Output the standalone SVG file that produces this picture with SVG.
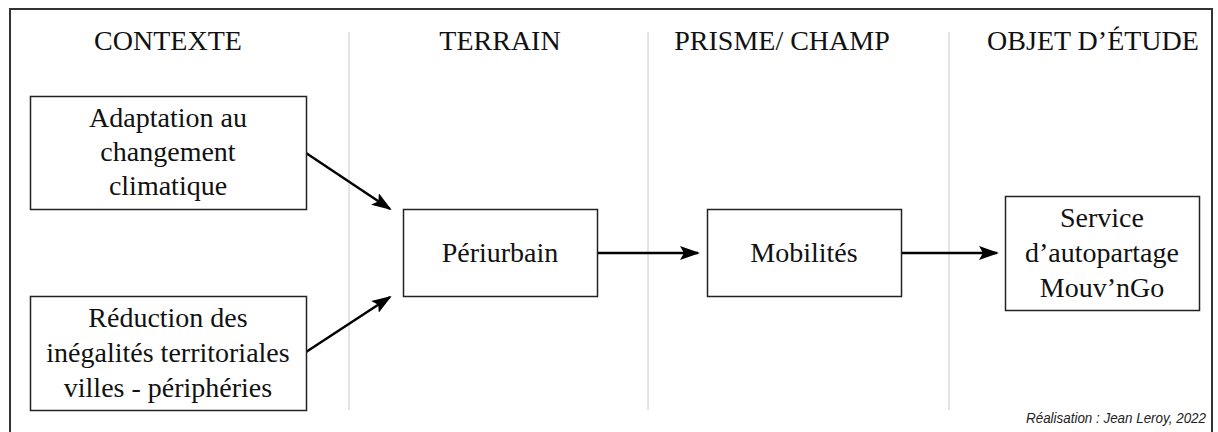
<svg xmlns="http://www.w3.org/2000/svg" width="1218" height="432" viewBox="0 0 1218 432">
<style>
.t{font-family:'Liberation Serif','Times New Roman',serif;font-size:28px;fill:#111;text-anchor:middle}
.box{fill:#fff;stroke:#222;stroke-width:1.5}
.div{stroke:#c8c8c8;stroke-width:1}
.arr{stroke:#000;stroke-width:2.5;fill:none;marker-end:url(#ah)}
.foot{font-family:'Liberation Sans',Arial,sans-serif;font-style:italic;font-size:15px;fill:#222;text-anchor:end}
</style>
<defs>
<marker id="ah" viewBox="0 0 20 14" refX="18" refY="7" markerWidth="20" markerHeight="14" markerUnits="userSpaceOnUse" orient="auto">
<path d="M0,0 L20,7 L0,14 L4,7 Z" fill="#000"/>
</marker>
</defs>
<rect width="1218" height="432" fill="#fff"/>
<g id="frame">
<path d="M10,432 V9 H1212 V432" fill="none" stroke="#333" stroke-width="2"/>
<line class="div" x1="349" y1="32" x2="349" y2="410"/>
<line class="div" x1="648" y1="32" x2="648" y2="410"/>
<line class="div" x1="949" y1="32" x2="949" y2="410"/>
</g>
<g id="headers">
<text class="t" x="168" y="50">CONTEXTE</text>
<text class="t" x="500" y="50">TERRAIN</text>
<text class="t" x="782" y="50">PRISME/ CHAMP</text>
<text class="t" x="1093" y="50">OBJET D’ÉTUDE</text>
</g>
<g id="connectors">
<line class="arr" x1="306" y1="153" x2="390" y2="209"/>
<line class="arr" x1="306" y1="352" x2="390" y2="297"/>
<line class="arr" x1="597" y1="253" x2="698" y2="253"/>
<line class="arr" x1="901" y1="253" x2="997" y2="253"/>
</g>
<g id="n-adaptation">
<rect class="box" x="30.5" y="96.5" width="276" height="113"/>
<text class="t" x="168" y="127">Adaptation au</text>
<text class="t" x="168" y="161">changement</text>
<text class="t" x="168" y="195">climatique</text>
</g>
<g id="n-reduction">
<rect class="box" x="30.5" y="296.5" width="276" height="114"/>
<text class="t" x="168" y="327">Réduction des</text>
<text class="t" x="168" y="362">inégalités territoriales</text>
<text class="t" x="168" y="397">villes - périphéries</text>
</g>
<g id="n-periurbain">
<rect class="box" x="403.5" y="209.5" width="194" height="87"/>
<text class="t" x="500" y="262">Périurbain</text>
</g>
<g id="n-mobilites">
<rect class="box" x="707.5" y="209.5" width="194" height="87"/>
<text class="t" x="804" y="262">Mobilités</text>
</g>
<g id="n-service">
<rect class="box" x="1005.5" y="196.5" width="194" height="114"/>
<text class="t" x="1102" y="227">Service</text>
<text class="t" x="1102" y="262">d’autopartage</text>
<text class="t" x="1102" y="297">Mouv’nGo</text>
</g>
<text class="foot" x="1206" y="423" textLength="180" lengthAdjust="spacingAndGlyphs">Réalisation : Jean Leroy, 2022</text>
</svg>
